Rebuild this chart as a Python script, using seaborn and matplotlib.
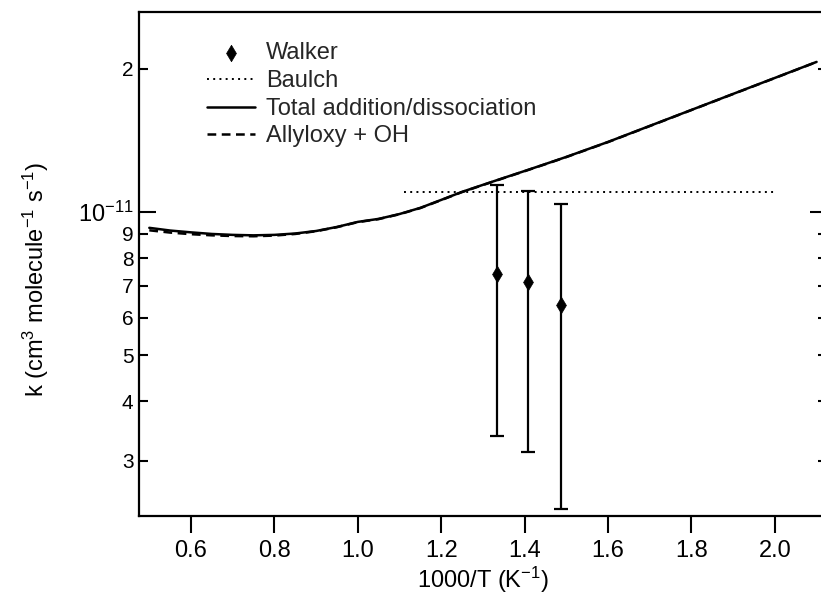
import matplotlib
matplotlib.use("Agg")
import matplotlib.pyplot as plt
import seaborn as sns
import numpy as np
import pandas as pd
from matplotlib.ticker import FixedLocator, FixedFormatter

# ---- data ----
inv_T = [0.50, 0.55, 0.60, 0.65, 0.70, 0.75, 0.80, 0.85, 0.90, 0.95,
         1.00, 1.05, 1.10, 1.15, 1.20, 1.25, 1.30, 1.35, 1.40, 1.45,
         1.50, 1.60, 1.70, 1.80, 1.90, 2.00, 2.10]
k_total = [9.26e-12, 9.14e-12, 9.06e-12, 8.99e-12, 8.95e-12, 8.93e-12, 8.95e-12,
           9.01e-12, 9.12e-12, 9.30e-12, 9.53e-12, 9.67e-12, 9.90e-12, 1.020e-11,
           1.060e-11, 1.102e-11, 1.140e-11, 1.179e-11, 1.219e-11, 1.261e-11,
           1.305e-11, 1.403e-11, 1.516e-11, 1.638e-11, 1.770e-11, 1.912e-11, 2.066e-11]
k_allyloxy = [9.15e-12, 9.05e-12, 8.98e-12, 8.93e-12, 8.90e-12, 8.89e-12, 8.92e-12,
              8.99e-12, 9.11e-12, 9.29e-12, 9.52e-12, 9.66e-12, 9.89e-12, 1.019e-11,
              1.059e-11, 1.101e-11, 1.139e-11, 1.178e-11, 1.218e-11, 1.260e-11,
              1.304e-11, 1.402e-11, 1.515e-11, 1.637e-11, 1.769e-11, 1.911e-11, 2.065e-11]
baulch_x = [1.11, 2.00]
baulch_k = [1.10e-11, 1.10e-11]
walker_x = [1.333, 1.408, 1.486]
walker_k = [7.40e-12, 7.13e-12, 6.38e-12]
walker_k_low = [3.39e-12, 3.13e-12, 2.38e-12]
walker_k_high = [1.140e-11, 1.108e-11, 1.039e-11]

x_ticks = [0.6, 0.8, 1.0, 1.2, 1.4, 1.6, 1.8, 2.0]
x_tick_labels = ["0.6", "0.8", "1.0", "1.2", "1.4", "1.6", "1.8", "2.0"]
y_major = [1e-11]
y_major_labels = [r"10$^{-11}$"]
y_minor = [3e-12, 4e-12, 5e-12, 6e-12, 7e-12, 8e-12, 9e-12, 2e-11]
y_minor_labels = ["3", "4", "5", "6", "7", "8", "9", "2"]

# ---- style ----
sns.set_theme(style="ticks")
plt.rcParams["font.family"] = ["Liberation Sans", "DejaVu Sans"]
plt.rcParams["mathtext.fontset"] = "custom"
plt.rcParams["mathtext.rm"] = "Liberation Sans"
plt.rcParams["mathtext.it"] = "Liberation Sans:italic"
plt.rcParams["mathtext.bf"] = "Liberation Sans:bold"

W, H = 821, 603
fig = plt.figure(figsize=(W / 100, H / 100), dpi=100)
left, right, top, bottom = 139, 827, 12, 516
ax = fig.add_axes([left / W, 1 - bottom / H, (right - left) / W, (bottom - top) / H])

df_tot = pd.DataFrame({"x": inv_T, "k": k_total})
df_all = pd.DataFrame({"x": inv_T, "k": k_allyloxy})
df_bau = pd.DataFrame({"x": baulch_x, "k": baulch_k})
df_wal = pd.DataFrame({"x": walker_x, "k": walker_k})

ax.errorbar(walker_x, walker_k,
            yerr=[np.array(walker_k) - np.array(walker_k_low),
                  np.array(walker_k_high) - np.array(walker_k)],
            fmt="none", ecolor="black", elinewidth=1.6, capsize=5, capthick=1.6, zorder=3)
sns.scatterplot(data=df_wal, x="x", y="k", ax=ax, marker="d", s=70, color="black",
                edgecolor="black", linewidth=0.5, label="Walker", zorder=4)
sns.lineplot(data=df_bau, x="x", y="k", ax=ax, color="black", lw=1.4,
             linestyle=(0, (1, 2.2)), label="Baulch", estimator=None, sort=False)
sns.lineplot(data=df_tot, x="x", y="k", ax=ax, color="black", lw=1.8,
             label="Total addition/dissociation", estimator=None, sort=False)
sns.lineplot(data=df_all, x="x", y="k", ax=ax, color="black", lw=1.8,
             linestyle=(0, (3.5, 2.2)), label="Allyloxy + OH", estimator=None, sort=False)

ax.set_yscale("log")
ax.set_xlim(0.4753, 2.125)
ax.set_ylim(2.298e-12, 2.63e-11)

ax.xaxis.set_major_locator(FixedLocator(x_ticks))
ax.xaxis.set_major_formatter(FixedFormatter(x_tick_labels))
ax.xaxis.set_minor_locator(FixedLocator([]))
ax.yaxis.set_major_locator(FixedLocator(y_major))
ax.yaxis.set_major_formatter(FixedFormatter(y_major_labels))
ax.yaxis.set_minor_locator(FixedLocator(y_minor))
ax.yaxis.set_minor_formatter(FixedFormatter(y_minor_labels))

fs = 17
ax.tick_params(axis="x", which="major", direction="out", length=12, width=1.5,
               labelsize=fs, pad=5, top=False, color="black", labelcolor="black")
ax.tick_params(axis="y", which="major", direction="in", length=12, width=1.5,
               labelsize=fs, pad=4, left=True, right=True, color="black", labelcolor="black")
ax.tick_params(axis="y", which="minor", direction="in", length=6.5, width=1.5,
               labelsize=fs - 2, pad=4, left=True, right=True, color="black", labelcolor="black")

for sp in ax.spines.values():
    sp.set_linewidth(1.6)
    sp.set_color("black")

ax.set_xlabel(r"1000/T (K$^{-1}$)", fontsize=fs, color="black", labelpad=2)
ax.set_ylabel(r"k (cm$^{3}$ molecule$^{-1}$ s$^{-1}$)", fontsize=fs, color="black")
ax.yaxis.set_label_coords(-0.128, 0.47)

handles, labels = ax.get_legend_handles_labels()
order = ["Walker", "Baulch", "Total addition/dissociation", "Allyloxy + OH"]
hmap = dict(zip(labels, handles))
ax.legend([hmap[o] for o in order], order, loc="upper left",
          bbox_to_anchor=(198 / W, 1 - 33 / H), bbox_transform=fig.transFigure,
          frameon=False, fontsize=fs, handlelength=2.0, handletextpad=0.47,
          labelspacing=0.24, borderaxespad=0, borderpad=0.4)

fig.patch.set_facecolor("white")
ax.set_facecolor("white")
fig.savefig("out.png", dpi=100)
